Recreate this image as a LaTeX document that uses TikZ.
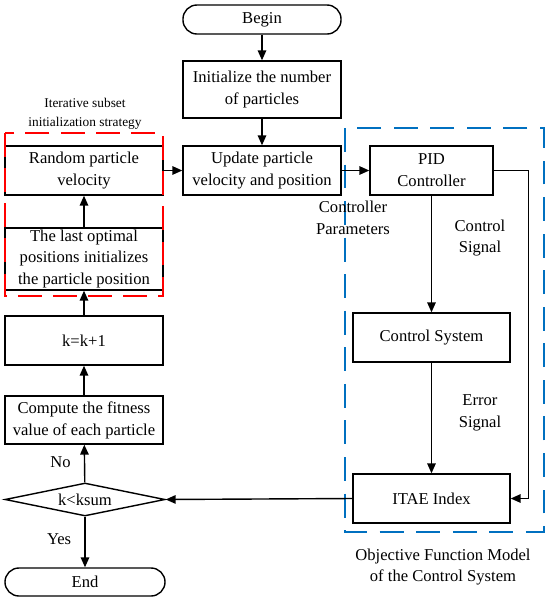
\documentclass[tikz,border=0pt]{standalone}
\usepackage{fontspec}
\setmainfont{Liberation Serif}
\usepackage{tikz}
\usetikzlibrary{positioning,arrows.meta,shapes.geometric}
\def\redframe{(5,133) rectangle (163,296)}
\def\blueframe{(345,128) rectangle (544,532)}
\definecolor{frameblue}{RGB}{0,112,192}
\tikzset{
	box/.style={draw, line width=1pt, align=center, minimum width=3.95cm, minimum height=1.225cm, inner sep=1pt, font=\fontsize{11.8}{15.6}\selectfont},
	term/.style={box, rounded corners=0.35cm, minimum height=0.725cm},
	test/.style={draw, line width=1pt, diamond, aspect=4.8, inner sep=0pt, minimum width=4cm, minimum height=0.825cm, font=\fontsize{11.8}{15.6}\selectfont},
	note/.style={align=center, font=\fontsize{11.8}{15.6}\selectfont},
	small note/.style={align=center, font=\fontsize{9.5}{13.5}\selectfont},
	arr/.style={line width=1pt, -{Triangle[length=7pt,width=6pt]}}
}
\begin{document}
\begin{tikzpicture}[x=0.025cm,y=-0.025cm]
	\useasboundingbox (0,0) rectangle (550,601);
	% main flow
	\node[term] (begin) at (262,19.5) {Begin};
	\node[box, minimum height=1.425cm] (init) at (262,89.5) {Initialize the number\\of particles};
	\node[box] (update) at (262,170.5) {Update particle\\velocity and position};
	\node[box] (rand) at (84,170.5) {Random particle\\velocity};
	\node[box, minimum height=1.55cm] (last) at (84,259) {The last optimal\\positions initializes\\the particle position};
	\node[box] (kinc) at (84,340.5) {k=k+1};
	\node[box, minimum height=1.2cm] (fit) at (84,420) {Compute the fitness\\value of each particle};
	\node[test] (cond) at (85,499.5) {k<ksum};
	\node[term, minimum width=4cm, minimum height=0.7cm] (end) at (85,582) {End};
	% objective function model
	\node[box, minimum width=3.075cm] (pid) at (431.5,170.5) {PID\\Controller};
	\node[box, minimum width=3.925cm] (csys) at (431.5,337.5) {Control System};
	\node[box, minimum width=3.925cm] (itae) at (431.5,498.5) {ITAE Index};

	\draw[red, line width=1.3pt, dash pattern=on 17 off 8] \redframe;
	\draw[frameblue, line width=1pt, dash pattern=on 17 off 9] \blueframe;

	\node[small note] (isis) at (85,114) {Iterative subset\\initialization strategy};
	\node[note] (cpar) at (353,218) {Controller\\Parameters};
	\node[note] (csig) at (480,238) {Control\\Signal};
	\node[note] (esig) at (480,413) {Error\\Signal};
	\node[note] (ofm) at (443,567) {Objective Function Model\\of the Control System};

	\draw[arr] (begin) -- (init);
	\draw[arr] (init) -- (update);
	\draw[arr] (update) -- (pid);
	\draw[arr] (rand) -- (update);
	\draw[arr] (last) -- (rand);
	\draw[arr] (kinc) -- (last);
	\draw[arr] (fit) -- (kinc);
	\draw[arr] (cond) -- node[note, pos=0.55, left=6pt] {No} (fit);
	\draw[arr] (cond) -- node[note, pos=0.45, left=6pt] {Yes} (end);
	\draw[arr] (pid) -- (csys);
	\draw[arr] (csys) -- (itae);
	\draw[arr] (pid.east) -- ++(35,0) |- (itae.east);
	\draw[arr] (itae.west) -- (cond.east);
\end{tikzpicture}
\end{document}
